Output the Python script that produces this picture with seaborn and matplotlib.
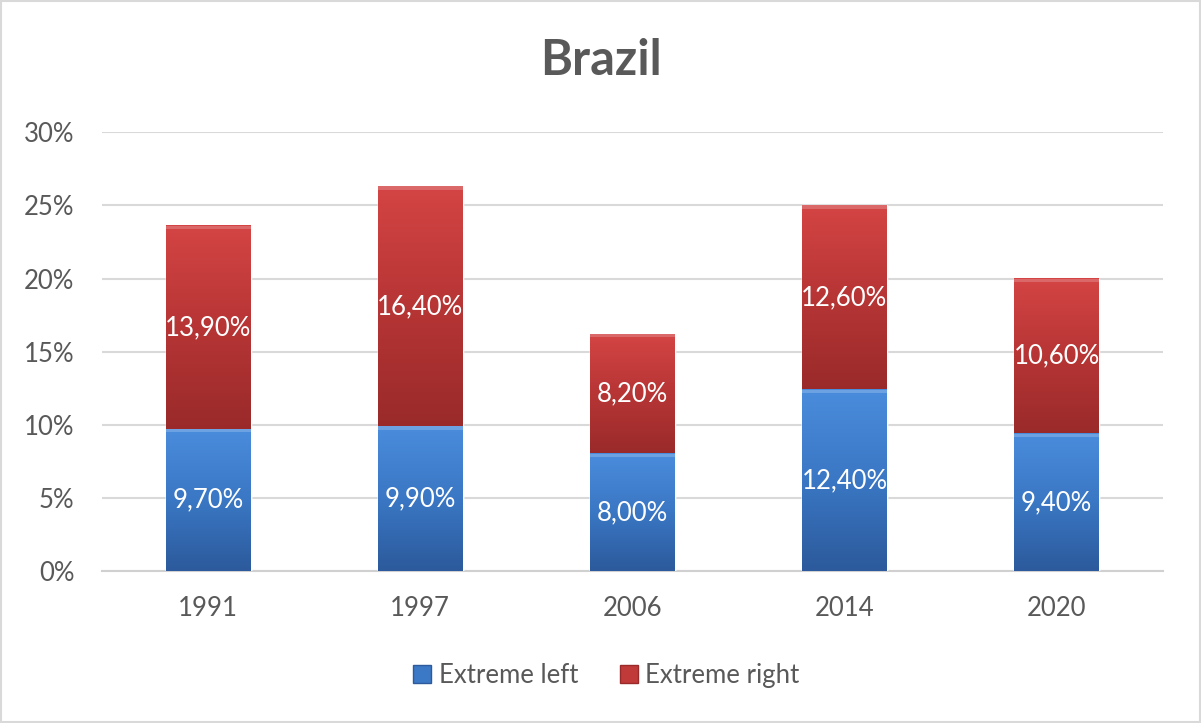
import numpy as np
import pandas as pd
import matplotlib
matplotlib.use("Agg")
import matplotlib.pyplot as plt
from matplotlib.patches import Rectangle, Patch
from matplotlib.colors import LinearSegmentedColormap
import seaborn as sns

# Data
years = ["1991", "1997", "2006", "2014", "2020"]
extreme_left = [9.7, 9.9, 8.0, 12.4, 9.4]
extreme_right = [13.9, 16.4, 8.2, 12.6, 10.6]
y_ticks = [0, 5, 10, 15, 20, 25, 30]

df = pd.DataFrame({"year": years, "left": extreme_left, "right": extreme_right})
df["total"] = df["left"] + df["right"]

sns.set_theme(style="white")
plt.rcParams["font.family"] = ["Lato", "DejaVu Sans"]

text_col = "#595959"
blue = "#3B78C6"
red = "#C03A3A"

fig = plt.figure(figsize=(12.01, 7.23), dpi=100)
ax = fig.add_axes([0.085, 0.21, 0.883, 0.607])

# stacked: totaal (rood) eerst, daarna links (blauw) eroverheen
sns.barplot(data=df, x="year", y="total", color=red, width=0.4, ax=ax,
            saturation=1, zorder=3)
sns.barplot(data=df, x="year", y="left", color=blue, width=0.4, ax=ax,
            saturation=1, zorder=3)

# gradient effect zoals in Excel
n = len(years)
grads = {
    "red": LinearSegmentedColormap.from_list("r", ["#9A2A2A", "#B73535", "#D44444"]),
    "blue": LinearSegmentedColormap.from_list("b", ["#2C5A9C", "#3A77C4", "#4A8CDC"]),
}
grad = np.linspace(0, 1, 100).reshape(-1, 1)
for i, p in enumerate(ax.patches):
    x0, y0 = p.get_x(), p.get_y()
    w, h = p.get_width(), p.get_height()
    if i < n:
        # rood deel: alleen boven het blauwe deel
        y0 = extreme_left[i]
        h = extreme_right[i]
        cmap = grads["red"]
    else:
        cmap = grads["blue"]
    ax.imshow(grad, extent=(x0, x0 + w, y0, y0 + h), origin="lower",
              cmap=cmap, aspect="auto", zorder=4)
    # lichte rand bovenaan
    ax.add_patch(Rectangle((x0, y0 + h - 0.22), w, 0.22, color="white",
                           alpha=0.2, lw=0, zorder=5))

ax.set_xlim(-0.5, n - 0.5)
ax.set_ylim(0, 30)

# labels
for i in range(n):
    l, r = extreme_left[i], extreme_right[i]
    ax.text(i, l / 2, f"{l:.2f}%".replace(".", ","), ha="center", va="center",
            color="white", fontsize=18.5, zorder=6)
    ax.text(i, l + r / 2, f"{r:.2f}%".replace(".", ","), ha="center", va="center",
            color="white", fontsize=18.5, zorder=6)

ax.set_yticks(y_ticks)
ax.set_yticklabels([f"{t}%" for t in y_ticks])
ax.yaxis.grid(True, color="#D9D9D9", linewidth=1.5, zorder=0)
ax.set_axisbelow(True)
for s in ["top", "right", "left"]:
    ax.spines[s].set_visible(False)
ax.spines["bottom"].set_color("#D0D0D0")
ax.spines["bottom"].set_linewidth(1.5)
ax.tick_params(axis="both", length=0, labelsize=18.5, labelcolor=text_col)
ax.tick_params(axis="y", pad=20)
ax.tick_params(axis="x", pad=18)
ax.set_xlabel("")
ax.set_ylabel("")

fig.text(0.5, 0.917, "Brazil", ha="center", va="center", fontsize=35,
         fontweight="bold", color=text_col)

handles = [Patch(facecolor=blue, edgecolor="#2C5A9C", label="Extreme left"),
           Patch(facecolor=red, edgecolor="#9A2A2A", label="Extreme right")]
fig.legend(handles=handles, loc="center", bbox_to_anchor=(0.505, 0.066), ncol=2,
           frameon=False, fontsize=18.5, labelcolor=text_col, handlelength=0.7,
           handleheight=0.7, handletextpad=0.3, columnspacing=1.6)

# kader rond grafiek
fig.patches.append(Rectangle((0.001, 0.001), 0.998, 0.998, transform=fig.transFigure,
                             fill=False, edgecolor="#D9D9D9", linewidth=1.5))

fig.savefig("out.png", dpi=100)
